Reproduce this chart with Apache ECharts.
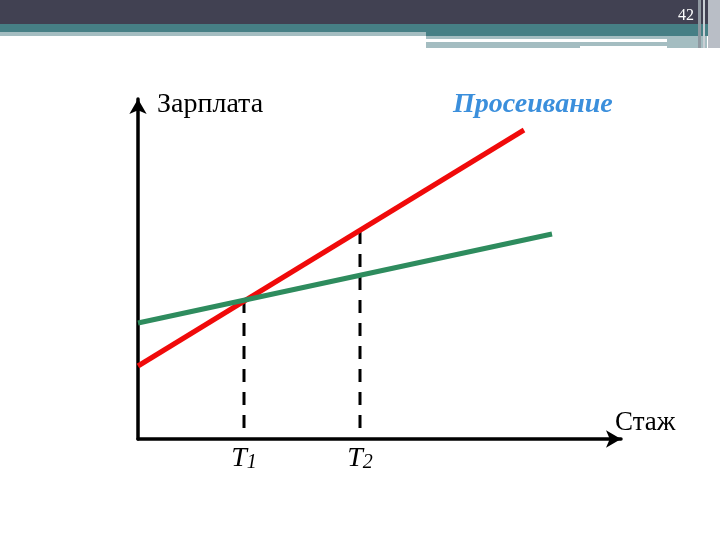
<!DOCTYPE html>
<html>
<head>
<meta charset="utf-8">
<script src="https://cdn.jsdelivr.net/npm/echarts@6/dist/echarts.min.js"></script>
<style>
  html, body { margin: 0; padding: 0; background: #fff; }
  #graf { width: 720px; height: 540px; }
</style>
</head>
<body>
<div id="graf"></div>
<script>
// datos del grafico (unidades del eje: 0..483 horizontal, 0..340 vertical)
var redLine = [[0, 73], [386, 309]];      // Просеивание
var greenLine = [[0, 116], [414, 205]];
var t1Drop = [[106, 139], [106, 0]];
var t2Drop = [[222, 208], [222, 0]];
var tickPos = [[106, 0], [222, 0]];
var tickLabels = ['1', '2'];

var serif = '"Liberation Serif", "DejaVu Serif", serif';

var myChart = echarts.init(document.getElementById('graf'));

var axisStyle = {
  show: true,
  symbol: ['none', 'arrow'],
  symbolSize: [13, 15],
  lineStyle: { color: '#000', width: 3.5 }
};

var option = {
  animation: false,
  grid: { left: 138, right: 99, top: 99, bottom: 101 },
  xAxis: {
    type: 'value', min: 0, max: 483,
    axisLine: axisStyle,
    axisTick: { show: false }, axisLabel: { show: false }, splitLine: { show: false }
  },
  yAxis: {
    type: 'value', min: 0, max: 340,
    axisLine: axisStyle,
    axisTick: { show: false }, axisLabel: { show: false }, splitLine: { show: false }
  },
  series: [
    {
      type: 'line', data: t1Drop, symbol: 'none', silent: true,
      lineStyle: { color: '#000', width: 3, type: [13, 10] }
    },
    {
      type: 'line', data: t2Drop, symbol: 'none', silent: true,
      lineStyle: { color: '#000', width: 3, type: [13, 10] }
    },
    {
      name: 'Просеивание', type: 'line', data: redLine, symbol: 'none',
      lineStyle: { color: '#f00a0a', width: 5, cap: 'butt' }
    },
    {
      type: 'line', data: greenLine, symbol: 'none',
      lineStyle: { color: '#2e8c5e', width: 5, cap: 'butt' }
    },
    {
      // etiquetas T1, T2 bajo el eje
      type: 'scatter', data: tickPos, symbolSize: 1, silent: true,
      itemStyle: { color: 'rgba(0,0,0,0)' },
      label: {
        show: true,
        position: 'bottom',
        distance: 5,
        color: '#000',
        opacity: 1,
        textBorderWidth: 0,
        formatter: function (p) { return '{t|T}{s|' + tickLabels[p.dataIndex] + '}'; },
        rich: {
          t: { fontFamily: serif, fontStyle: 'italic', fontSize: 28, color: '#000', lineHeight: 28, verticalAlign: 'bottom' },
          s: { fontFamily: serif, fontStyle: 'italic', fontSize: 20, color: '#000', lineHeight: 14, verticalAlign: 'bottom' }
        }
      }
    }
  ],
  graphic: [
    // cabecera de la diapositiva
    { type: 'rect', shape: { x: 0, y: 0, width: 720, height: 24 }, style: { fill: '#414152' }, silent: true },
    { type: 'rect', shape: { x: 0, y: 24, width: 720, height: 8 }, style: { fill: '#467f85' }, silent: true },
    { type: 'rect', shape: { x: 0, y: 32, width: 426, height: 4 }, style: { fill: '#a4bdc1' }, silent: true },
    { type: 'rect', shape: { x: 426, y: 32, width: 294, height: 4 }, style: { fill: '#467f85' }, silent: true },
    { type: 'rect', shape: { x: 426, y: 36, width: 241, height: 3 }, style: { fill: '#a4bdc1' }, silent: true },
    { type: 'rect', shape: { x: 426, y: 42, width: 154, height: 6 }, style: { fill: '#a4bdc1' }, silent: true },
    { type: 'rect', shape: { x: 580, y: 42, width: 87, height: 4 }, style: { fill: '#a4bdc1' }, silent: true },
    { type: 'rect', shape: { x: 667, y: 36, width: 40, height: 12 }, style: { fill: '#a4bdc1' }, silent: true },
    { type: 'rect', shape: { x: 698, y: 0, width: 3, height: 48 }, style: { fill: '#8f98a0' }, silent: true },
    { type: 'rect', shape: { x: 703, y: 0, width: 2, height: 48 }, style: { fill: '#c9ced4' }, silent: true },
    { type: 'rect', shape: { x: 708, y: 0, width: 12, height: 48 }, style: { fill: '#b9bec6' }, silent: true },
    { type: 'text', x: 686, y: 16, style: { text: '42', fill: '#fff', font: '16px ' + serif, textAlign: 'center', textVerticalAlign: 'middle' }, silent: true },
    // textos
    { type: 'text', x: 157, y: 105, style: { text: 'Зарплата', fill: '#000', font: '28px ' + serif, textVerticalAlign: 'middle' }, silent: true },
    { type: 'text', x: 453, y: 105, style: { text: 'Просеивание', fill: '#3b8fdc', font: 'italic bold 28px ' + serif, textVerticalAlign: 'middle' }, silent: true },
    { type: 'text', x: 615, y: 423, style: { text: 'Стаж', fill: '#000', font: '27px ' + serif, textVerticalAlign: 'middle' }, silent: true }
  ]
};

myChart.setOption(option);
</script>
</body>
</html>
